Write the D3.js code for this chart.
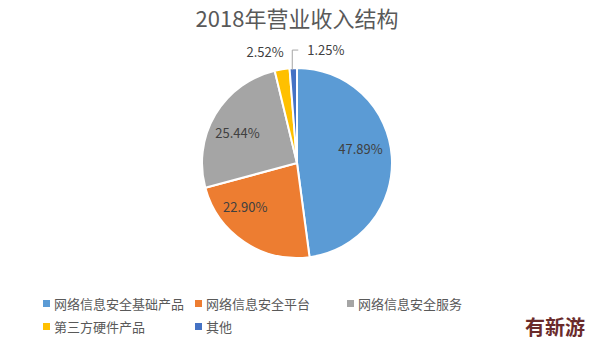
<!DOCTYPE html>
<html>
<head>
<meta charset="utf-8">
<script src="https://cdn.jsdelivr.net/npm/d3@7"></script>
<style>
  html, body { margin: 0; padding: 0; background: #fff; }
  svg { display: block; }
</style>
</head>
<body>
<svg id="chart" width="594" height="346"></svg>
<script>
// Revenue structure for 2018 (share of total, %)
const categories = ["网络信息安全基础产品", "网络信息安全平台", "网络信息安全服务", "第三方硬件产品", "其他"];
const shares = [47.89, 22.90, 25.44, 2.52, 1.25];
const colors = ["#5B9BD5", "#ED7D31", "#A5A5A5", "#FFC000", "#4472C4"];
const titleText = "2018年营业收入结构";
const watermark = "有新游";

const svg = d3.select("#chart");
const font = "'Noto Sans CJK SC', 'Noto Sans', sans-serif";

const cx = 297, cy = 163, r = 95;

svg.append("text")
  .attr("x", cx).attr("y", 27)
  .attr("text-anchor", "middle")
  .attr("font-family", font)
  .attr("font-size", 22)
  .attr("fill", "#595959")
  .text(titleText);

const data = categories.map((c, i) => ({ name: c, value: shares[i], color: colors[i] }));

const pie = d3.pie().value(d => d.value).sort(null);
const arcs = pie(data);
const arc = d3.arc().innerRadius(0).outerRadius(r);

const g = svg.append("g").attr("transform", `translate(${cx},${cy})`);

g.selectAll("path")
  .data(arcs)
  .join("path")
  .attr("d", arc)
  .attr("fill", d => d.data.color)
  .attr("stroke", "#fff")
  .attr("stroke-width", 2);

// Label placement: large slices inside (nudged from the centroid), small slices outside
const inner = d3.arc().innerRadius(r * 0.68).outerRadius(r * 0.68);
const insideNudge = [[-1, -9], [-16, -9], [-4, 3]];
const labelFmt = v => v.toFixed(2) + "%";

arcs.forEach((a, i) => {
  let x, y, anchor = "middle";
  const mid = (a.startAngle + a.endAngle) / 2;
  const px = Math.sin(mid) * r, py = -Math.cos(mid) * r;
  if (i < 3) {
    [x, y] = inner.centroid(a);
    x += insideNudge[i][0]; y += insideNudge[i][1];
  } else if (i === 3) {
    x = px - 17; y = py - 17;
  } else {
    // leader line from the slice edge up and to the right
    g.append("path")
      .attr("d", `M${px - 1},${py + 2} L${px - 1},${py - 18} L${px + 5},${py - 18}`)
      .attr("fill", "none")
      .attr("stroke", "#a6a6a6")
      .attr("stroke-width", 1);
    x = px + 14; y = py - 18;
    anchor = "start";
  }
  g.append("text")
    .attr("x", x).attr("y", y)
    .attr("dy", "0.35em")
    .attr("text-anchor", anchor)
    .attr("font-family", font)
    .attr("font-size", 13)
    .attr("fill", "#404040")
    .text(labelFmt(a.data.value));
});

// Legend: two rows, three columns
const colX = [43, 195, 347];
const rowY = [304, 327];
const legend = svg.append("g");
data.forEach((d, i) => {
  const col = i % 3, row = Math.floor(i / 3);
  const item = legend.append("g").attr("transform", `translate(${colX[col]},${rowY[row]})`);
  item.append("rect")
    .attr("x", 0).attr("y", -4).attr("width", 7).attr("height", 7)
    .attr("fill", d.color);
  item.append("text")
    .attr("x", 11).attr("y", 0)
    .attr("dy", "0.35em")
    .attr("font-family", font)
    .attr("font-size", 13)
    .attr("fill", "#595959")
    .text(d.name);
});

svg.append("text")
  .attr("x", 555).attr("y", 335)
  .attr("text-anchor", "middle")
  .attr("font-family", font)
  .attr("font-size", 20)
  .attr("font-weight", "bold")
  .attr("fill", "#6a2b2b")
  .text(watermark);
</script>
</body>
</html>
